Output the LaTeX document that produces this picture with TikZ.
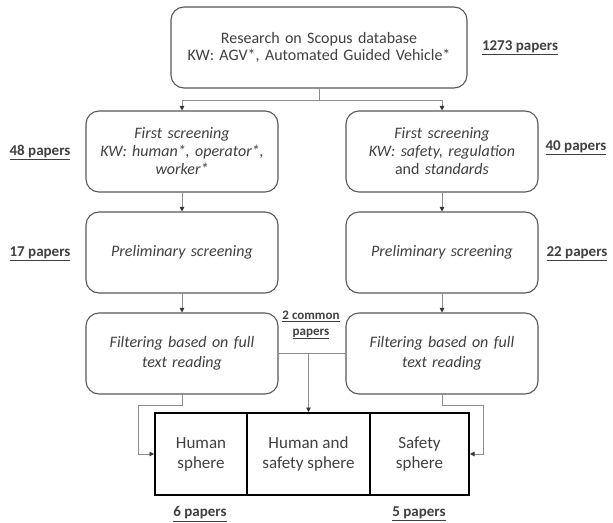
\documentclass[tikz,border=0pt]{standalone}
\usepackage{fontspec}
\setmainfont{Carlito}
\usetikzlibrary{arrows.meta}
\definecolor{txt}{HTML}{404040}
\definecolor{bord}{HTML}{595959}
\definecolor{connc}{HTML}{8C8C8C}
\begin{document}
\begin{tikzpicture}[x=1pt,y=-1pt,
 box/.style={draw=bord,line width=1.1pt,rounded corners=13pt,minimum width=192pt,minimum height=81pt,text width=185pt,align=center,text=txt,font=\fontsize{16}{18}\selectfont,inner sep=0pt},
 lab/.style={text=txt,font=\fontsize{15}{16}\bfseries\selectfont,inner sep=0pt,align=center},
 conn/.style={draw=connc,line width=0.9pt},
 arr/.style={conn,-{Triangle[width=4.5pt,length=4.5pt,color=black!80,fill=black!80]}},
 sph/.style={draw=black,line width=2pt,minimum height=82pt,text=txt,align=center,font=\fontsize{17}{20}\selectfont,inner sep=0pt}]
\useasboundingbox[fill=white] (0,0) rectangle (613,522);
% boxes
\node[box,minimum width=296pt,text width=280pt,font=\fontsize{16}{17.5}\selectfont] (top) at (319,47.5) {Research on Scopus database\\KW: AGV*, Automated Guided Vehicle*};
\node[box] (a1) at (182,151.5) {\textit{First screening}\\\textit{KW: human*, operator*,}\\\textit{worker*}};
\node[box] (b1) at (442,151.5) {\textit{First screening}\\\textit{KW: safety, regulation}\\and \textit{standards}};
\node[box] (a2) at (182,252.5) {\textit{Preliminary screening}};
\node[box] (b2) at (442,252.5) {\textit{Preliminary screening}};
\node[box,font=\fontsize{16}{20}\selectfont] (a3) at (182,353.5) {\textit{Filtering based on full}\\\textit{text reading}};
\node[box,font=\fontsize{16}{20}\selectfont] (b3) at (442,353.5) {\textit{Filtering based on full}\\\textit{text reading}};
% spheres
\node[sph,minimum width=92pt] (s1) at (201,454) {Human\\sphere};
\node[sph,minimum width=123pt] (s2) at (308.5,454) {Human and\\safety sphere};
\node[sph,minimum width=99pt] (s3) at (419.5,454) {Safety\\sphere};
% labels
\node[lab] (l0) at (520,48) {\underline{1273 papers}};
\node[lab] (l1) at (40,152) {\underline{48 papers}};
\node[lab] (l2) at (576,148) {\underline{40 papers}};
\node[lab] (l3) at (40,254) {\underline{17 papers}};
\node[lab] (l4) at (577,254) {\underline{22 papers}};
\node[lab,font=\fontsize{13}{16}\bfseries\selectfont] (l5) at (311,325) {\underline{2 common}\\\underline{papers}};
\node[lab] (l6) at (200,514) {\underline{6 papers}};
\node[lab] (l7) at (419,514) {\underline{5 papers}};
% connectors
\coordinate (sp) at (319,100);
\draw[conn] (top.south) -- (sp);
\draw[arr] (sp) -| (a1.north);
\draw[arr] (sp) -| (b1.north);
\draw[arr] (a1.south) -- (a2.north);
\draw[arr] (b1.south) -- (b2.north);
\draw[arr] (a2.south) -- (a3.north);
\draw[arr] (b2.south) -- (b3.north);
\draw[conn] (a3.east) -- (b3.west);
\draw[arr] (s2.north |- a3.east) -- (s2.north);
\coordinate (lk) at (138,405);
\coordinate (rk) at (483,405);
\draw[arr] (a3.south) |- (lk) |- (s1.west);
\draw[arr] (b3.south) |- (rk) |- (s3.east);
\end{tikzpicture}
\end{document}
